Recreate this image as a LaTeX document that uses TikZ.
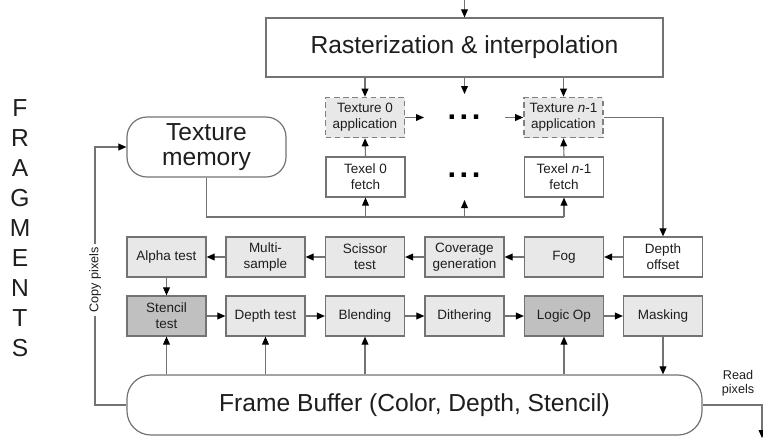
\documentclass[tikz,border=0pt]{standalone}
\usepackage{fontspec}
\setmainfont{Liberation Sans}
\usetikzlibrary{arrows.meta}
\usetikzlibrary{positioning}

\definecolor{linegray}{RGB}{115,115,115}
\definecolor{lightfill}{RGB}{232,232,232}
\definecolor{darkfill}{RGB}{192,192,192}
\definecolor{txtgray}{RGB}{30,30,30}

\tikzset{
  stage/.style={draw=linegray, line width=0.3mm, fill=lightfill, minimum width=19.75mm,
    minimum height=10mm, inner sep=0pt, align=center,
    font=\fontsize{9.6}{11.5}\selectfont, text=txtgray},
  keystage/.style={stage, fill=darkfill},
  plainstage/.style={stage, fill=white},
  texapp/.style={stage, draw=gray, line width=0.4mm, dash pattern=on 1.4mm off 0.9mm},
  bigbox/.style={draw=linegray, line width=0.3mm, fill=white, align=center, inner sep=0pt,
    font=\fontsize{17.5}{18}\selectfont, text=txtgray},
  flow/.style={draw=linegray, line width=0.28mm, -{Triangle[length=2mm,width=1.7mm,color=black]}},
  wire/.style={draw=linegray, line width=0.28mm},
  note/.style={font=\fontsize{9}{10}\selectfont, text=txtgray, align=center, inner sep=1pt},
  dotrow/.style={font=\fontsize{22}{22}\selectfont\bfseries, inner sep=0pt},
  bigletter/.style={font=\fontsize{17.5}{18}\selectfont, text=txtgray, inner sep=0pt},
}

\begin{document}
\begin{tikzpicture}[x=0.25mm,y=-0.25mm]
\useasboundingbox (0,0) rectangle (763,438);

% rasterization and texture units
\node[bigbox, minimum width=99.25mm, minimum height=14.75mm] (rast) at (464.5,47.5) {Rasterization \& interpolation};
\node[texapp] (app0) at (365,117.5) {Texture 0\\application};
\node[texapp] (appn) at (563.5,117.5) {Texture \textit{n}-1\\application};
\node[plainstage] (fetch0) at (365.5,177) {Texel 0\\fetch};
\node[plainstage] (fetchn) at (564,177) {Texel \textit{n}-1\\fetch};
\node[dotrow] (dotsA) at (464,117) {.\hspace{2.5pt}.\hspace{2.5pt}.};
\node[dotrow] (dotsB) at (464,175) {.\hspace{2.5pt}.\hspace{2.5pt}.};
\node[bigbox, rounded corners=5mm, minimum width=39.75mm, minimum height=15mm] (texmem) at (206.5,147) {Texture\\memory};

\coordinate (top) at (464.5,0);
\coordinate (midA) at (464.5,94);
\coordinate (outA) at (424,117.5);
\coordinate (inA) at (505,117.5);
\coordinate (busL) at (206.5,217);
\coordinate (busM) at (464.5,217);
\coordinate (midB) at (464.5,200);

\draw[flow] (top) -- (rast.north);
\draw[flow] (rast.south -| app0.north) -- (app0.north);
\draw[flow] (rast.south) -- (midA);
\draw[flow] (rast.south -| appn.north) -- (appn.north);
\draw[flow] (app0.east) -- (outA);
\draw[flow] (inA) -- (appn.west);
\draw[flow] (fetch0.north) -- (app0.south);
\draw[flow] (fetchn.north) -- (appn.south);
\draw[wire] (texmem.south) -- (busL) -- (busL -| fetchn.south);
\draw[flow] (busL -| fetch0.south) -- (fetch0.south);
\draw[flow] (busM) -- (midB);
\draw[flow] (busL -| fetchn.south) -- (fetchn.south);

% per-fragment operations, first row
\node[stage] (alpha) at (166.5,257) {Alpha test};
\node[stage] (multi) at (265.5,257) {Multi-\\sample};
\node[stage] (scissor) at (365,257) {Scissor\\test};
\node[stage] (cover) at (464.5,257) {Coverage\\generation};
\node[stage] (fog) at (564,257) {Fog};
\node[plainstage] (doff) at (663,257) {Depth\\offset};

% second row
\node[keystage] (stencil) at (166.5,316) {Stencil\\test};
\node[stage] (depth) at (265.5,316) {Depth test};
\node[stage] (blend) at (365,316) {Blending};
\node[stage] (dither) at (464.5,316) {Dithering};
\node[keystage] (logic) at (564,316) {Logic Op};
\node[stage] (mask) at (663,316) {Masking};

\draw[flow] (appn.east) -| (doff.north);
\draw[flow] (doff.west) -- (fog.east);
\draw[flow] (fog.west) -- (cover.east);
\draw[flow] (cover.west) -- (scissor.east);
\draw[flow] (scissor.west) -- (multi.east);
\draw[flow] (multi.west) -- (alpha.east);
\draw[flow] (alpha.south) -- (stencil.north);
\draw[flow] (stencil.east) -- (depth.west);
\draw[flow] (depth.east) -- (blend.west);
\draw[flow] (blend.east) -- (dither.west);
\draw[flow] (dither.east) -- (logic.west);
\draw[flow] (logic.east) -- (mask.west);

% frame buffer
\node[bigbox, rounded corners=6mm, minimum width=143.75mm, minimum height=15mm] (fb) at (414.5,405) {Frame Buffer (Color, Depth, Stencil)};

\draw[flow] (mask.south) -- (mask.south |- fb.north);
\draw[flow] (stencil.south |- fb.north) -- (stencil.south);
\draw[flow] (depth.south |- fb.north) -- (depth.south);
\draw[flow] (blend.south |- fb.north) -- (blend.south);
\draw[flow] (logic.south |- fb.north) -- (logic.south);

\coordinate (cpA) at (95,405);
\coordinate (cpB) at (95,147);
\draw[flow] (fb.west) -- (cpA) -- (cpB) -- (texmem.west);
\node[note, rotate=90, fill=white, inner sep=2pt] (copy) at (95,280) {Copy pixels};

\coordinate (rpA) at (762,405);
\coordinate (rpB) at (762,438);
\draw[flow] (fb.east) -- (rpA) -- (rpB);
\node[note] (read) at (738,383) {Read\\pixels};

% side caption
\node[bigletter] (f1) at (20,108) {F};
\node[bigletter] (f2) at (20,138) {R};
\node[bigletter] (f3) at (20,168) {A};
\node[bigletter] (f4) at (20,198) {G};
\node[bigletter] (f5) at (20,228) {M};
\node[bigletter] (f6) at (20,258) {E};
\node[bigletter] (f7) at (20,288) {N};
\node[bigletter] (f8) at (20,318) {T};
\node[bigletter] (f9) at (20,348) {S};
\end{tikzpicture}
\end{document}
